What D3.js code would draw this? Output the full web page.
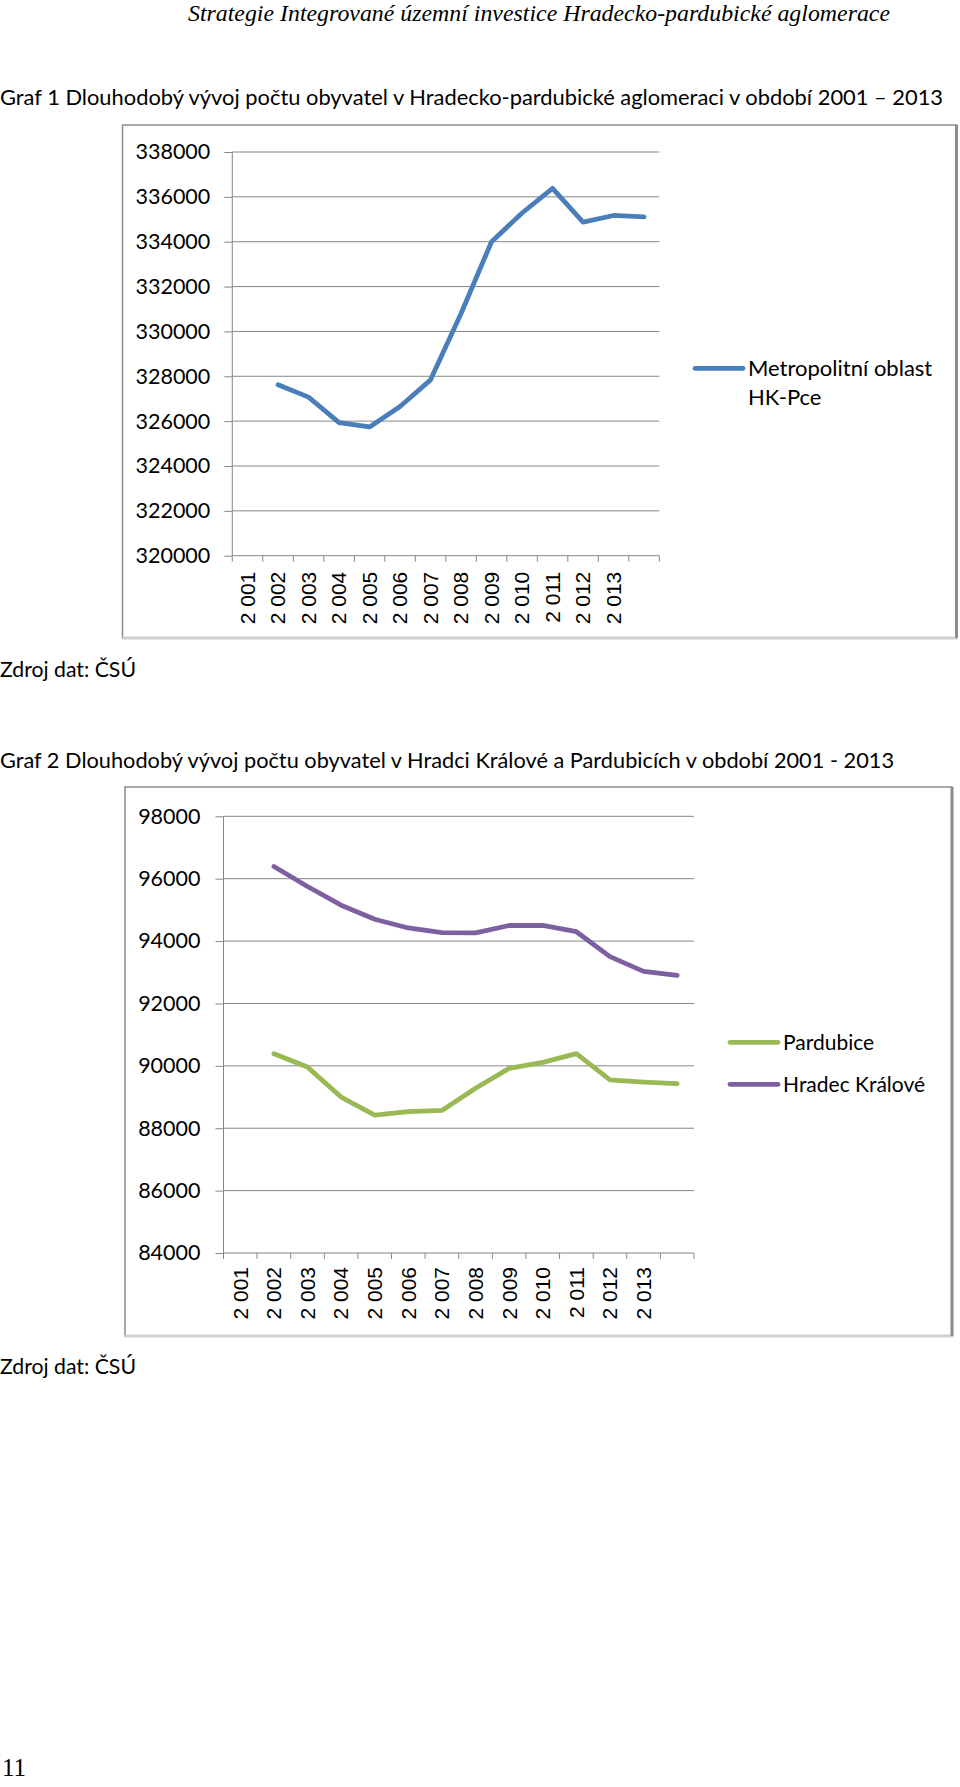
<!DOCTYPE html>
<html><head><meta charset="utf-8">
<script src="https://cdn.jsdelivr.net/npm/d3@7/dist/d3.min.js"></script>
<style>body{margin:0;background:#fff}svg{display:block}</style>
</head><body>
<svg id="page" width="960" height="1787"></svg>
<script>
// ---------- DATA ----------
const slotLabels = ["2 001","2 002","2 003","2 004","2 005","2 006","2 007","2 008","2 009","2 010","2 011","2 012","2 013",""];
// values sit one slot to the right of their year label, as in the original chart (first slot empty)
const metroValues = [null,327620,327070,325930,325740,326650,327840,330800,334000,335280,336380,334870,335170,335110];
const pardubiceValues = [null,90390,89960,89000,88420,88530,88570,89280,89920,90110,90390,89550,89480,89430];
const hradecValues = [null,96390,95750,95150,94700,94420,94270,94260,94500,94500,94300,93500,93030,92900];
const yTicks1 = [320000,322000,324000,326000,328000,330000,332000,334000,336000,338000];
const yTicks2 = [84000,86000,88000,90000,92000,94000,96000,98000];
const series1 = [{name:"Metropolitní oblast|HK-Pce", values: metroValues, color:"#4a7ebb"}];
const series2 = [{name:"Pardubice", values: pardubiceValues, color:"#98b954"},
                 {name:"Hradec Králové", values: hradecValues, color:"#7d60a0"}];

const svg = d3.select("#page");
svg.append("rect").attr("width",960).attr("height",1787).attr("fill","#fff");
const sans = "Lato, 'Open Sans', sans-serif";

function txt(x,y,s,opts){
  const t = svg.append("text").attr("x",x).attr("y",y).text(s)
    .attr("font-family", opts.family || sans).attr("font-size", opts.size||20)
    .attr("fill","#000");
  if(opts.italic) t.attr("font-style","italic");
  if(opts.len) t.attr("textLength",opts.len).attr("lengthAdjust","spacingAndGlyphs");
  return t;
}

txt(188,21,"Strategie Integrované územní investice Hradecko-pardubické aglomerace",
  {family:"'Liberation Serif', 'Times New Roman', serif", size:23, italic:true, len:702});
txt(0,105,"Graf 1 Dlouhodobý vývoj počtu obyvatel v Hradecko-pardubické aglomeraci v období 2001 – 2013",{size:21.5,len:943});
txt(0,677,"Zdroj dat: ČSÚ",{size:21.5,len:136});
txt(0,768,"Graf 2 Dlouhodobý vývoj počtu obyvatel v Hradci Králové a Pardubicích v období 2001 - 2013",{size:21.5,len:894});
txt(0,1374,"Zdroj dat: ČSÚ",{size:21.5,len:136});
txt(2,1776,"11",{family:"'Liberation Serif', serif", size:25});

function chart(cfg){
  const g = svg.append("g");
  // frame
  g.append("rect").attr("x",cfg.fx).attr("y",cfg.fy).attr("width",cfg.fw).attr("height",cfg.fh)
    .attr("fill","#fff").attr("stroke","#8c8c8c").attr("stroke-width",1.5);
  g.append("line").attr("x1",cfg.fx).attr("x2",cfg.fx+cfg.fw+1.5).attr("y1",cfg.fy+cfg.fh).attr("y2",cfg.fy+cfg.fh)
    .attr("stroke","#d0d0d0").attr("stroke-width",3);
  g.append("line").attr("x1",cfg.fx+cfg.fw).attr("x2",cfg.fx+cfg.fw).attr("y1",cfg.fy).attr("y2",cfg.fy+cfg.fh)
    .attr("stroke","#8c8c8c").attr("stroke-width",3);

  const x = d3.scaleBand().domain(d3.range(slotLabels.length)).range([cfg.x0,cfg.x1]).paddingInner(0).paddingOuter(0);
  const y = d3.scaleLinear().domain([cfg.ticks[0], cfg.ticks[cfg.ticks.length-1]]).range([cfg.yb,cfg.yt]);

  // gridlines
  g.selectAll(".grid").data(cfg.ticks.slice(1)).join("line")
    .attr("x1",cfg.x0).attr("x2",cfg.x1).attr("y1",d=>y(d)).attr("y2",d=>y(d))
    .attr("stroke","#868686").attr("stroke-width",1);
  // y axis
  const ya = g.append("g").attr("transform",`translate(${cfg.x0},0)`)
    .call(d3.axisLeft(y).tickValues(cfg.ticks).tickSize(8).tickPadding(cfg.ypad).tickFormat(d3.format("d")));
  ya.select(".domain").attr("stroke","#868686").attr("d",`M0,${cfg.yb}V${cfg.yt}`);
  ya.selectAll(".tick line").attr("stroke","#868686");
  ya.selectAll(".tick text").attr("font-family",sans).attr("font-size",21.5).attr("fill","#000");
  // x axis
  const xa = g.append("g").attr("transform",`translate(0,${cfg.yb})`)
    .call(d3.axisBottom(x).tickSize(0).tickFormat(i=>slotLabels[i]));
  xa.select(".domain").attr("stroke","#868686").attr("d",`M${cfg.x0},0H${cfg.x1}`);
  xa.selectAll(".tick text").attr("font-family","'Liberation Sans', Arial, sans-serif").attr("font-size",21)
    .attr("fill","#000").attr("text-anchor","end").attr("dy","0.35em")
    .attr("transform",`translate(0,${cfg.xlab}) rotate(-90)`).attr("y",0).attr("x",0);
  const bounds = d3.range(slotLabels.length+1).map(i=> i<slotLabels.length ? x(i) : cfg.x1);
  g.selectAll(".xt").data(bounds).join("line")
    .attr("x1",d=>d).attr("x2",d=>d).attr("y1",cfg.yb).attr("y2",cfg.yb+6)
    .attr("stroke","#868686");

  // lines
  const line = d3.line().defined(d=>d.v!=null).x(d=>x(d.i)+x.bandwidth()/2).y(d=>y(d.v));
  cfg.series.forEach(s=>{
    g.append("path").datum(s.values.map((v,i)=>({i,v})))
      .attr("d",line).attr("fill","none").attr("stroke",s.color).attr("stroke-width",4.8)
      .attr("stroke-linejoin","round").attr("stroke-linecap","round");
  });
  // legend
  cfg.series.forEach((s,k)=>{
    const ly = cfg.ly + k*cfg.lstep;
    g.append("line").attr("x1",cfg.lx).attr("x2",cfg.lx+48).attr("y1",ly).attr("y2",ly)
      .attr("stroke",s.color).attr("stroke-width",4.8).attr("stroke-linecap","round");
    s.name.split("|").forEach((part,j)=>{
      g.append("text").attr("x",cfg.lx+53).attr("y",ly+8+j*28.6).text(part)
        .attr("font-family",sans).attr("font-size",cfg.lsize).attr("fill","#000");
    });
  });
}

chart({fx:122.5,fy:125,fw:834,fh:513, x0:232.3,x1:659.3,yt:152,yb:555.7, ticks:yTicks1, ypad:14,
  xlab:16, series:series1, lx:695, ly:368.3, lstep:0, lsize:22});
chart({fx:125,fy:787,fw:827,fh:549, x0:223.5,x1:694,yt:816.3,yb:1253, ticks:yTicks2, ypad:15,
  xlab:14, series:series2, lx:730, ly:1042.3, lstep:42, lsize:21});
</script>
</body></html>
